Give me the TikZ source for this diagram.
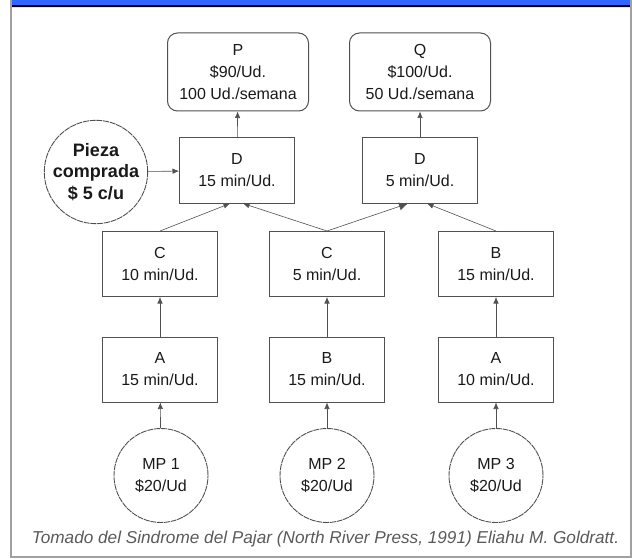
\documentclass[tikz,border=0pt]{standalone}
\usepackage{fontspec}
\setmainfont{Liberation Sans}
\usetikzlibrary{arrows.meta}
\definecolor{bandblue}{RGB}{51,102,255}
\definecolor{framegray}{RGB}{160,160,160}
\definecolor{linegray}{RGB}{80,80,80}
\definecolor{txt}{RGB}{25,25,25}
\definecolor{captiongray}{RGB}{90,90,90}
\tikzset{
  txtstyle/.style={text=txt, align=center, font=\fontsize{16}{22}\selectfont, inner sep=0pt},
  procbox/.style={txtstyle, draw=linegray, line width=1pt, minimum width=115pt, minimum height=65pt},
  prodbox/.style={txtstyle, draw=linegray, line width=1pt, rounded corners=10pt, minimum width=141pt, minimum height=78pt},
  rawcirc/.style={txtstyle, draw=linegray, line width=0.9pt, circle, dash pattern=on 6pt off 0.8pt, minimum size=94pt},
  buycirc/.style={txtstyle, draw=linegray, line width=0.9pt, circle, dash pattern=on 6pt off 0.8pt, minimum size=88pt, font=\fontsize{18}{21.5}\selectfont\bfseries},
  flow/.style={draw=linegray, line width=0.6pt, -{Latex[length=6.5pt,width=5.5pt]}},
  bigflow/.style={draw=linegray, line width=0.6pt, -{Latex[length=9pt,width=8pt]}},
}
\begin{document}
\begin{tikzpicture}[x=1pt,y=-1pt]
\useasboundingbox (0,0) rectangle (632,559);
% frame
\fill[bandblue] (11,0) rectangle (630,5.5);
\fill[black] (11,5.5) rectangle (630,7);
\fill[black!12] (11,7) rectangle (630,8.5);
\draw[framegray, line width=1.6pt] (10.8,0) -- (10.8,556.7) -- (630.7,556.7) -- (630.7,0);
% products
\node[prodbox] (P) at (238,72) {P\\\$90/Ud.\\100 Ud./semana};
\node[prodbox] (Q) at (420,72) {Q\\\$100/Ud.\\50 Ud./semana};
% D
\node[procbox] (D1) at (237,170.5) {D\\15 min/Ud.};
\node[procbox] (D2) at (420,170.5) {D\\5 min/Ud.};
\node[buycirc] (PZ) at (96,172) {Pieza\\comprada\\\$ 5 c/u};
% C row
\node[procbox] (C1) at (160,264) {C\\10 min/Ud.};
\node[procbox] (C2) at (327,264) {C\\5 min/Ud.};
\node[procbox] (B2) at (496,264) {B\\15 min/Ud.};
% A row
\node[procbox] (A1) at (160,369.5) {A\\15 min/Ud.};
\node[procbox] (B1) at (327,369.5) {B\\15 min/Ud.};
\node[procbox] (A3) at (496,369.5) {A\\10 min/Ud.};
% raw materials
\node[rawcirc] (M1) at (161,475.5) {MP 1\\\$20/Ud};
\node[rawcirc] (M2) at (327,475.5) {MP 2\\\$20/Ud};
\node[rawcirc] (M3) at (496,475.5) {MP 3\\\$20/Ud};
% caption
\node[inner sep=0pt, text=captiongray, font=\fontsize{17.2}{20}\selectfont\itshape] (cap) at (325.5,539) {Tomado del Sindrome del Pajar (North River Press, 1991) Eliahu M. Goldratt.};
% connectors
\draw[flow] (M1) -- (A1);
\draw[flow] (M2) -- (B1);
\draw[flow] (M3) -- (A3);
\draw[flow] (A1) -- (C1);
\draw[flow] (B1) -- (C2);
\draw[flow] (A3) -- (B2);
\draw[flow] (C1.north) -- ([xshift=-7pt]D1.south);
\draw[flow] (C2.north) -- ([xshift=6pt]D1.south);
\draw[bigflow] (C2.north) -- ([xshift=-12pt]D2.south);
\draw[flow] (B2.north) -- ([xshift=7pt]D2.south);
\draw[flow] (PZ) -- (D1);
\draw[flow] (D1) -- (P);
\draw[flow] (D2) -- (Q);
\end{tikzpicture}
\end{document}
